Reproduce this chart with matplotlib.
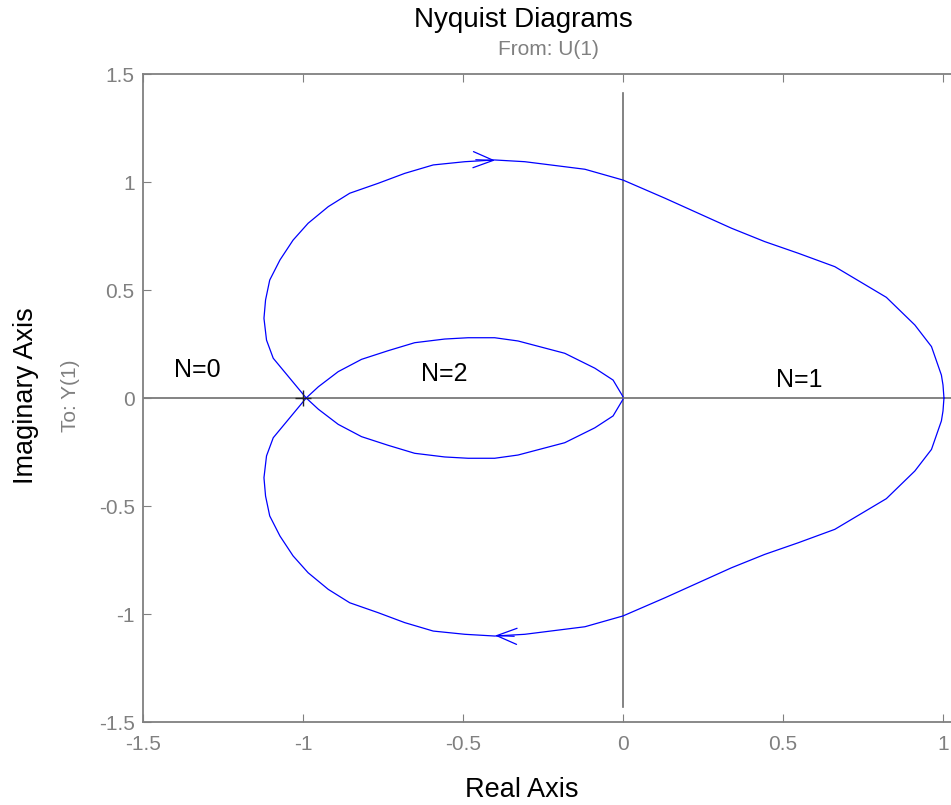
import numpy as np
import matplotlib
matplotlib.use("Agg")
import matplotlib.pyplot as plt
from matplotlib.ticker import FuncFormatter

plt.rcParams['font.family'] = ['Liberation Sans', 'DejaVu Sans']

# upper half of the Nyquist curve
# outer loop: from the -1 crossing round the top to (1, 0)
outer_re = [-0.99, -1.093, -1.114, -1.122, -1.117, -1.104, -1.072, -1.031, -0.984,
            -0.921, -0.854, -0.765, -0.682, -0.593, -0.494, -0.401, -0.307, -0.119,
            0.0, 0.131, 0.339, 0.443, 0.548, 0.662, 0.823, 0.912, 0.964, 0.995, 1.0, 1.003]
outer_im = [0.0, 0.184, 0.268, 0.369, 0.454, 0.546, 0.639, 0.731, 0.809,
            0.886, 0.948, 0.994, 1.040, 1.079, 1.094, 1.102, 1.094, 1.059,
            1.009, 0.925, 0.786, 0.724, 0.670, 0.608, 0.466, 0.338, 0.238, 0.106, 0.06, 0.0]
# inner loop: from the -1 crossing to the origin
inner_re = [-0.99, -0.952, -0.890, -0.817, -0.734, -0.651, -0.557, -0.484, -0.401,
            -0.328, -0.182, -0.088, -0.031, 0.0]
inner_im = [0.0, 0.052, 0.122, 0.179, 0.219, 0.256, 0.273, 0.279, 0.279,
            0.264, 0.207, 0.138, 0.083, 0.006]

# arrow positions (tip) on the outer loop
arrow_re = -0.40
arrow_im = 1.10

region_labels = ['N=0', 'N=2', 'N=1']
region_re = [-1.33, -0.56, 0.55]
region_im = [0.13, 0.11, 0.085]

xticks = [-1.5, -1, -0.5, 0, 0.5, 1, 1.5]
yticks = [-1.5, -1, -0.5, 0, 0.5, 1, 1.5]

gray = '#808080'
blue = '#0000ff'

fig = plt.figure(figsize=(9.51, 8.05), dpi=100)
ax = fig.add_axes([143 / 951, 83 / 805, 960 / 951, 648 / 805])

# axis lines through the origin
ax.plot([-1.5, 1.5], [0, 0], color='#6e6e6e', lw=1.2, zorder=1)
ax.plot([0, 0], [-1.43, 1.41], color='#6e6e6e', lw=1.2, zorder=1)

# upper and mirrored lower half
ore = np.array(outer_re)
oim = np.array(outer_im)
ire = np.array(inner_re)
iim = np.array(inner_im)
ax.plot(ore, oim, color=blue, lw=0.9, zorder=3)
ax.plot(ore, -oim, color=blue, lw=0.9, zorder=3)
ax.plot(ire, iim, color=blue, lw=0.9, zorder=3)
ax.plot(ire, -iim, color=blue, lw=0.9, zorder=3)

# direction arrows
ap = dict(arrowstyle='->,head_length=1.45,head_width=0.58', color=blue, lw=0.9,
          shrinkA=0, shrinkB=0, mutation_scale=10)
ax.annotate('', xy=(arrow_re, arrow_im), xytext=(arrow_re - 0.06, arrow_im + 0.003),
            arrowprops=ap, zorder=4)
ax.annotate('', xy=(arrow_re, -arrow_im), xytext=(arrow_re + 0.06, -arrow_im - 0.003),
            arrowprops=ap, zorder=4)

# critical point
ax.plot([-1], [0], marker='+', color='#222222', ms=12, mew=1.0, zorder=5)

for lab, x, y in zip(region_labels, region_re, region_im):
    ax.text(x, y, lab, fontsize=18, ha='center', va='center', color='black')

ax.set_xlim(-1.5, 1.5)
ax.set_ylim(-1.5, 1.5)
ax.set_xticks(xticks)
ax.set_yticks(yticks)
fmt = FuncFormatter(lambda v, p: '%g' % v)
ax.xaxis.set_major_formatter(fmt)
ax.yaxis.set_major_formatter(fmt)
ax.tick_params(direction='in', length=6, width=0.8, colors=gray, labelsize=15,
               top=True, right=True, pad=6)
ax.tick_params(axis='x', pad=9)
for s in ax.spines.values():
    s.set_color(gray)
    s.set_linewidth(1.3)

fig.text(0.55, 0.975, 'Nyquist Diagrams', fontsize=20, ha='center', va='center')
fig.text(0.577, 0.939, 'From: U(1)', fontsize=15, ha='center', va='center', color=gray)
fig.text(0.549, 0.019, 'Real Axis', fontsize=19.5, ha='center', va='center')
fig.text(0.027, 0.509, 'Imaginary Axis', fontsize=19.5, ha='center', va='center',
         rotation=90)
fig.text(0.074, 0.509, 'To: Y(1)', fontsize=15, ha='center', va='center',
         rotation=90, color=gray)

fig.savefig('out.png', dpi=100)
